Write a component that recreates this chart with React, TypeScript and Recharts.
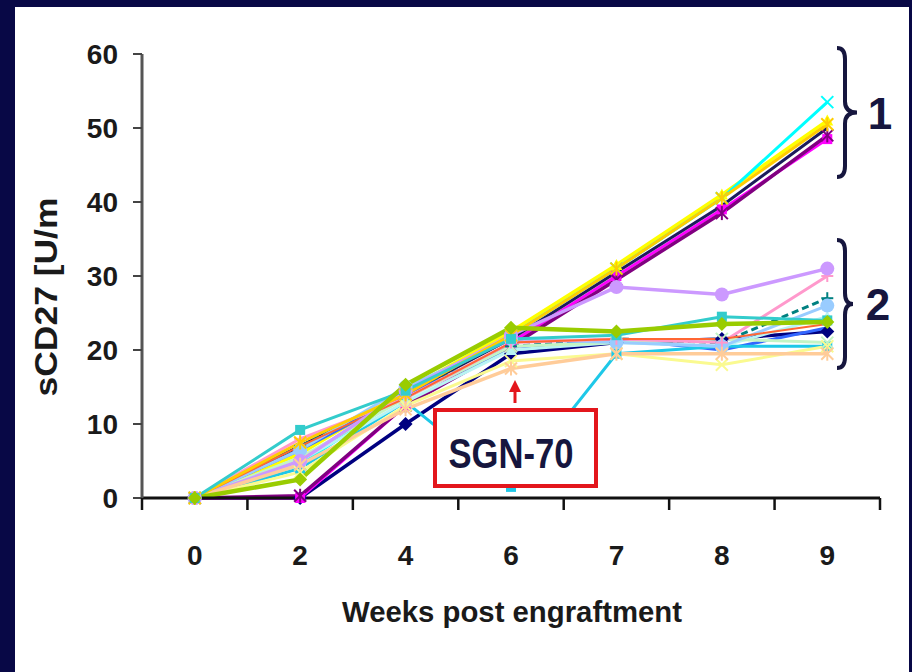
import React from "react"
import { LineChart, Line, XAxis, YAxis } from "recharts"

// weeks post engraftment (x categories)
const weeks = ["0", "2", "4", "6", "7", "8", "9"]
const yTicks = [0, 10, 20, 30, 40, 50, 60]

// sCD27 per mouse
const navy = [0, 0, 10, 19.5, 21, 21.5, 22.5]
const magenta = [0, 0, 12.5, 21, 30, 39, 48.5]
const yellow = [0, 6, 14.5, 22.5, 31.5, 41, 51]
const cyan = [0, 4.5, 14, 22, 31, 40.5, 53.5]
const purple = [0, 0.3, 12.5, 20.5, 29.5, 38.5, 49]
const darkNavy = [0, 7, 14, 21.5, 30.5, 39.5, 50]
const teal = [0, 7, 14, 20.5, 21.5, 21, 27]
const blue = [0, 6.5, 14, 20, 21.5, 20, 23]
const skyBlue = [0, 4, 13, 1.5, 19.5, 20.5, 20.5]
const lightTurquoise = [0, 5, 13, 20, 21, 20.5, 24.5]
const lightGreen = [0, 5.5, 13.5, 20.5, 21, 21.5, 21]
const lightYellow = [0, 3.5, 12.5, 18.5, 19.5, 18, 20.5]
const paleBlue = [0, 6.5, 15, 21.5, 21, 20.5, 26]
const rose = [0, 8, 13.5, 21, 21.5, 21, 30]
const orangeRed = [0, 7, 13.5, 21, 21.5, 21.5, 23.5]
const lavender = [0, 5, 14.5, 22, 28.5, 27.5, 31]
const tan = [0, 4.5, 12, 17.5, 19.5, 19.5, 19.5]
const gold = [0, 7.5, 14, 22, 31, 40.5, 50.5]
const aqua = [0, 9.2, 14.5, 21.5, 22, 24.5, 24]
const lime = [0, 2.5, 15.3, 23, 22.5, 23.5, 23.8]

type Shape = "diamond" | "square" | "triangle" | "x" | "star" | "circle" | "plus" | "none"

const series: { key: string; values: number[]; color: string; shape: Shape; width?: number; dash?: string }[] = [
  { key: "navy", values: navy, color: "#000080", shape: "diamond", width: 3.5 },
  { key: "magenta", values: magenta, color: "#ff00ff", shape: "square" },
  { key: "yellow", values: yellow, color: "#ffff00", shape: "triangle", width: 3.5 },
  { key: "cyan", values: cyan, color: "#00ffff", shape: "x" },
  { key: "purple", values: purple, color: "#800080", shape: "star", width: 3.5 },
  { key: "darkNavy", values: darkNavy, color: "#1c1c5c", shape: "none" },
  { key: "teal", values: teal, color: "#008080", shape: "plus", dash: "7 4" },
  { key: "blue", values: blue, color: "#3366ff", shape: "none" },
  { key: "skyBlue", values: skyBlue, color: "#1ec8e8", shape: "square" },
  { key: "lightTurquoise", values: lightTurquoise, color: "#b8f4f4", shape: "triangle" },
  { key: "lightGreen", values: lightGreen, color: "#c4f4c4", shape: "x" },
  { key: "lightYellow", values: lightYellow, color: "#fafa90", shape: "x" },
  { key: "paleBlue", values: paleBlue, color: "#99ccff", shape: "circle" },
  { key: "rose", values: rose, color: "#ff99cc", shape: "plus" },
  { key: "orangeRed", values: orangeRed, color: "#ff6633", shape: "none", width: 2 },
  { key: "lavender", values: lavender, color: "#cc99ff", shape: "circle", width: 3.5 },
  { key: "tan", values: tan, color: "#ffcc99", shape: "star", width: 3.5 },
  { key: "gold", values: gold, color: "#ffcc00", shape: "star" },
  { key: "aqua", values: aqua, color: "#33cccc", shape: "square" },
  { key: "lime", values: lime, color: "#99cc00", shape: "diamond", width: 4.5 },
]

const rows = weeks.map((w, i) => {
  const row: Record<string, number | string> = { x: i, week: w }
  series.forEach((s) => (row[s.key] = s.values[i]))
  return row
})

// ticks on the category boundaries plus the label positions at the centres
const xTicks = weeks.flatMap((_, i) => [i - 0.5, i]).concat(weeks.length - 0.5)

const font = "'Liberation Sans', Arial, sans-serif"
const ink = "#16163e"

function Marker({ cx, cy, color, shape }: { cx: number; cy: number; color: string; shape: Shape }) {
  if (cx == null || cy == null || shape === "none") return <g />
  const r = 6
  switch (shape) {
    case "diamond":
      return <polygon points={`${cx},${cy - r - 1} ${cx + r + 1},${cy} ${cx},${cy + r + 1} ${cx - r - 1},${cy}`} fill={color} />
    case "square":
      return <rect x={cx - 5} y={cy - 5} width={10} height={10} fill={color} />
    case "triangle":
      return <polygon points={`${cx},${cy - r} ${cx + r},${cy + r - 1} ${cx - r},${cy + r - 1}`} fill={color} />
    case "circle":
      return <circle cx={cx} cy={cy} r={r + 1} fill={color} />
    case "x":
      return (
        <g stroke={color} strokeWidth={2}>
          <line x1={cx - r} y1={cy - r} x2={cx + r} y2={cy + r} />
          <line x1={cx - r} y1={cy + r} x2={cx + r} y2={cy - r} />
        </g>
      )
    case "plus":
      return (
        <g stroke={color} strokeWidth={2}>
          <line x1={cx - r} y1={cy} x2={cx + r} y2={cy} />
          <line x1={cx} y1={cy - r} x2={cx} y2={cy + r} />
        </g>
      )
    case "star":
      return (
        <g stroke={color} strokeWidth={2}>
          <line x1={cx - r} y1={cy - r} x2={cx + r} y2={cy + r} />
          <line x1={cx - r} y1={cy + r} x2={cx + r} y2={cy - r} />
          <line x1={cx} y1={cy - r - 1} x2={cx} y2={cy + r + 1} />
        </g>
      )
  }
  return <g />
}

function XTick(props: any) {
  const { x, y, payload } = props
  const v = payload.value
  if (!Number.isInteger(v)) {
    return <line x1={x} x2={x} y1={y} y2={y + 12} stroke="#111" strokeWidth={2.5} />
  }
  return (
    <text x={x} y={y + 67} textAnchor="middle" fontSize={28} fontWeight={700} fill="#1a1a1a" fontFamily={font}>
      {weeks[v]}
    </text>
  )
}

function brace(x0: number, top: number, bottom: number, tipX: number) {
  const mid = (top + bottom) / 2
  const xv = x0 + 8
  const r = 11
  return `M ${x0} ${top} Q ${xv} ${top} ${xv} ${top + r} L ${xv} ${mid - r} Q ${xv} ${mid} ${tipX} ${mid} Q ${xv} ${mid} ${xv} ${mid + r} L ${xv} ${bottom - r} Q ${xv} ${bottom} ${x0} ${bottom}`
}

export default function App() {
  return (
    <div style={{ position: "fixed", left: 0, top: 0, width: 912, height: 672, background: "#080846", overflow: "hidden" }}>
      <div style={{ position: "absolute", left: 15, top: 7, width: 894, height: 665, background: "#ffffff" }} />
      <div style={{ position: "absolute", left: 0, top: 0 }}>
        <LineChart width={912} height={672} data={rows} margin={{ top: 54, right: 32, bottom: 94, left: 82 }}>
          <XAxis
            dataKey="x"
            type="number"
            domain={[-0.5, 6.5]}
            ticks={xTicks}
            interval={0}
            height={80}
            tickSize={0}
            tickMargin={0}
            tickLine={false}
            axisLine={{ stroke: "#111", strokeWidth: 3 }}
            tick={<XTick />}
          />
          <YAxis
            type="number"
            domain={[0, 60]}
            ticks={yTicks}
            interval={0}
            width={60}
            tickSize={9}
            tickMargin={15}
            axisLine={{ stroke: "#555", strokeWidth: 3 }}
            tickLine={{ stroke: "#444", strokeWidth: 2 }}
            tick={{ fontSize: 28, fontWeight: 700, fill: "#1a1a1a", fontFamily: font }}
          />
          {series.map((s) => (
            <Line
              key={s.key}
              dataKey={s.key}
              stroke={s.color}
              strokeWidth={s.width ?? 3}
              strokeDasharray={s.dash}
              isAnimationActive={false}
              dot={(p: any) => <Marker key={`${s.key}-${p.index}`} cx={p.cx} cy={p.cy} color={s.color} shape={s.shape} />}
              activeDot={false}
            />
          ))}
        </LineChart>
      </div>
      <svg width={912} height={672} style={{ position: "absolute", left: 0, top: 0, pointerEvents: "none" }}>
        <text
          x={57}
          y={297}
          transform="rotate(-90 57 297)"
          textAnchor="middle"
          fontSize={31}
          fontWeight={700}
          fill="#1a1a1a"
          fontFamily={font}
          textLength={199}
          lengthAdjust="spacingAndGlyphs"
        >
          sCD27 [U/m
        </text>
        <text
          x={512}
          y={622}
          textAnchor="middle"
          fontSize={30}
          fontWeight={700}
          fill="#1a1a1a"
          fontFamily={font}
          textLength={340}
          lengthAdjust="spacingAndGlyphs"
        >
          Weeks post engraftment
        </text>
        <path d={brace(837, 48, 177, 857)} fill="none" stroke={ink} strokeWidth={4} />
        <path d={brace(837, 240, 368, 853)} fill="none" stroke={ink} strokeWidth={4} />
        <text x={880} y={129} textAnchor="middle" fontSize={44} fontWeight={700} fill={ink} fontFamily={font}>1</text>
        <text x={878} y={320} textAnchor="middle" fontSize={44} fontWeight={700} fill={ink} fontFamily={font}>2</text>
        <rect x={435} y={410} width={161} height={76} fill="#ffffff" stroke="#e3161c" strokeWidth={4} />
        <text
          x={511}
          y={468}
          textAnchor="middle"
          fontSize={42}
          fontWeight={700}
          fill={ink}
          fontFamily={font}
          textLength={125}
          lengthAdjust="spacingAndGlyphs"
        >
          SGN-70
        </text>
        <line x1={515} y1={403} x2={515} y2={390} stroke="#e3161c" strokeWidth={3} />
        <polygon points="515,380 521,392 509,392" fill="#e3161c" />
      </svg>
    </div>
  )
}
